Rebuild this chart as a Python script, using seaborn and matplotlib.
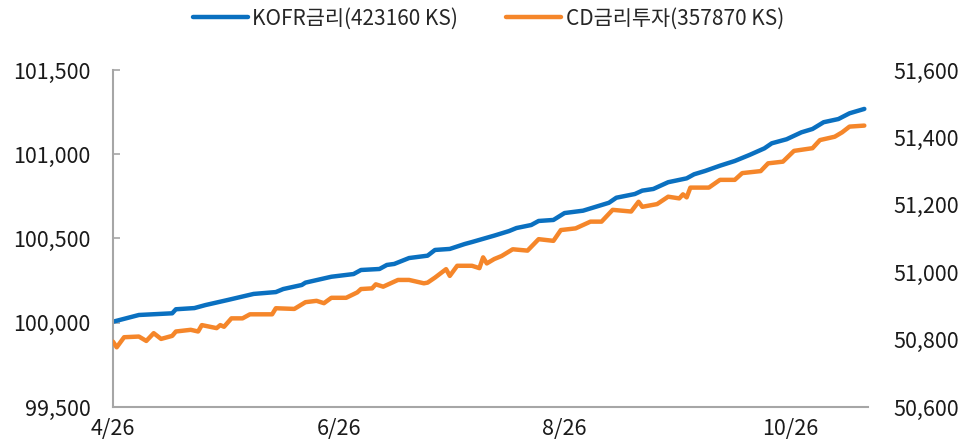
import matplotlib
matplotlib.use("Agg")
import matplotlib.pyplot as plt
import matplotlib.dates as mdates
import matplotlib.ticker as mticker
import seaborn as sns
import pandas as pd

# ---- data ----
kofr_dates = ["2024-04-26", "2024-05-03", "2024-05-12", "2024-05-13", "2024-05-18", "2024-05-21",
              "2024-05-27", "2024-06-03", "2024-06-09", "2024-06-11", "2024-06-16", "2024-06-17",
              "2024-06-24", "2024-06-30", "2024-07-02", "2024-07-07", "2024-07-09", "2024-07-11",
              "2024-07-15", "2024-07-20", "2024-07-22", "2024-07-26", "2024-07-30", "2024-08-01",
              "2024-08-07", "2024-08-11", "2024-08-13", "2024-08-17", "2024-08-19", "2024-08-23",
              "2024-08-26", "2024-08-31", "2024-09-07", "2024-09-09", "2024-09-14", "2024-09-16",
              "2024-09-19", "2024-09-23", "2024-09-28", "2024-09-30", "2024-10-03", "2024-10-07",
              "2024-10-11", "2024-10-15", "2024-10-19", "2024-10-21", "2024-10-25", "2024-10-29",
              "2024-11-01", "2024-11-04", "2024-11-08", "2024-11-11", "2024-11-15"]
kofr_values = [100006, 100046, 100056, 100080, 100087, 100105,
               100135, 100171, 100182, 100200, 100224, 100238,
               100273, 100289, 100313, 100319, 100343, 100349,
               100384, 100398, 100432, 100438, 100467, 100479,
               100517, 100544, 100562, 100580, 100604, 100610,
               100651, 100665, 100712, 100742, 100764, 100784,
               100794, 100834, 100857, 100881, 100901, 100932,
               100960, 100996, 101035, 101065, 101089, 101130,
               101150, 101190, 101209, 101243, 101269]

cd_dates = ["2024-04-26", "2024-04-27", "2024-04-29", "2024-05-03", "2024-05-05", "2024-05-07",
            "2024-05-09", "2024-05-12", "2024-05-13", "2024-05-17", "2024-05-19", "2024-05-20",
            "2024-05-24", "2024-05-25", "2024-05-26", "2024-05-28", "2024-05-31", "2024-06-02",
            "2024-06-08", "2024-06-09", "2024-06-14", "2024-06-17", "2024-06-20", "2024-06-22",
            "2024-06-24", "2024-06-28", "2024-07-01", "2024-07-02", "2024-07-05", "2024-07-06",
            "2024-07-08", "2024-07-12", "2024-07-15", "2024-07-19", "2024-07-20", "2024-07-22",
            "2024-07-25", "2024-07-26", "2024-07-28", "2024-08-01", "2024-08-03", "2024-08-04",
            "2024-08-05", "2024-08-07", "2024-08-09", "2024-08-12", "2024-08-16", "2024-08-19",
            "2024-08-23", "2024-08-25", "2024-08-29", "2024-09-02", "2024-09-05", "2024-09-08",
            "2024-09-13", "2024-09-15", "2024-09-16", "2024-09-20", "2024-09-23", "2024-09-26",
            "2024-09-27", "2024-09-28", "2024-09-29", "2024-10-04", "2024-10-07", "2024-10-11",
            "2024-10-13", "2024-10-18", "2024-10-20", "2024-10-24", "2024-10-27", "2024-11-01",
            "2024-11-03", "2024-11-07", "2024-11-09", "2024-11-11", "2024-11-15"]
cd_values = [50794, 50777, 50807, 50809, 50796, 50819,
             50802, 50811, 50824, 50829, 50824, 50843,
             50834, 50843, 50838, 50863, 50863, 50875,
             50875, 50893, 50891, 50911, 50915, 50908,
             50924, 50924, 50940, 50950, 50952, 50964,
             50957, 50977, 50977, 50967, 50969, 50984,
             51009, 50989, 51019, 51019, 51012, 51044,
             51026, 51039, 51048, 51068, 51064, 51098,
             51093, 51125, 51130, 51150, 51150, 51185,
             51180, 51209, 51194, 51202, 51224, 51219,
             51231, 51222, 51251, 51251, 51274, 51274,
             51294, 51300, 51323, 51328, 51360, 51368,
             51392, 51402, 51415, 51432, 51435]

kofr_label = "KOFR금리(423160 KS)"
cd_label = "CD금리투자(357870 KS)"
x_ticks = ["2024-04-26", "2024-06-26", "2024-08-26", "2024-10-26"]
left_ticks = [99500, 100000, 100500, 101000, 101500]
right_ticks = [50600, 50800, 51000, 51200, 51400, 51600]

# ---- styling ----
sns.set_theme(style="white")
plt.rcParams["font.family"] = ["Noto Sans CJK KR", "DejaVu Sans"]

BLUE = "#0A70C0"
ORANGE = "#F5862A"
SPINE = "#A6A6A6"

kofr_df = pd.DataFrame({"date": pd.to_datetime(kofr_dates), "value": kofr_values})
cd_df = pd.DataFrame({"date": pd.to_datetime(cd_dates), "value": cd_values})

fig = plt.figure(figsize=(9.69, 4.43), dpi=100)
ax = fig.add_axes([0.1166, 0.0813, 0.7792, 0.7607])
ax2 = ax.twinx()

sns.lineplot(data=kofr_df, x="date", y="value", ax=ax, color=BLUE, linewidth=3.2,
             label=kofr_label, legend=False)
sns.lineplot(data=cd_df, x="date", y="value", ax=ax2, color=ORANGE, linewidth=3.2,
             label=cd_label, legend=False)

ax.set_xlim(pd.Timestamp("2024-04-26"), pd.Timestamp("2024-11-16"))
ax.set_ylim(99500, 101500)
ax2.set_ylim(50600, 51600)

ax.set_xticks(pd.to_datetime(x_ticks))
ax.xaxis.set_major_formatter(mticker.FuncFormatter(
    lambda v, p: f"{mdates.num2date(v).month}/{mdates.num2date(v).day}"))
ax.set_yticks(left_ticks)
ax2.set_yticks(right_ticks)
ax.yaxis.set_major_formatter(mticker.StrMethodFormatter("{x:,.0f}"))
ax2.yaxis.set_major_formatter(mticker.StrMethodFormatter("{x:,.0f}"))

for a in (ax, ax2):
    a.set_xlabel("")
    a.set_ylabel("")
    for s in a.spines.values():
        s.set_visible(False)

ax.spines["left"].set_visible(True)
ax.spines["bottom"].set_visible(True)
for s in ("left", "bottom"):
    ax.spines[s].set_color(SPINE)
    ax.spines[s].set_linewidth(1.5)

ax.tick_params(axis="x", direction="in", length=5, width=1.2, color=SPINE,
               labelsize=15.5, pad=8, labelcolor="#1a1a1a")
ax.tick_params(axis="y", direction="in", length=5, width=1.2, color=SPINE,
               labelsize=15.5, pad=16, labelcolor="#1a1a1a")
ax2.tick_params(axis="y", length=0, labelsize=15.5, pad=18, labelcolor="#1a1a1a")

handles = ax.get_lines()[:1] + ax2.get_lines()[:1]
fig.legend(handles, [kofr_label, cd_label], loc="center", bbox_to_anchor=(0.504, 0.958),
           ncol=2, frameon=False, fontsize=15, handlelength=2.65, handletextpad=0.2,
           columnspacing=2.3)

fig.savefig("out.png", dpi=100)
